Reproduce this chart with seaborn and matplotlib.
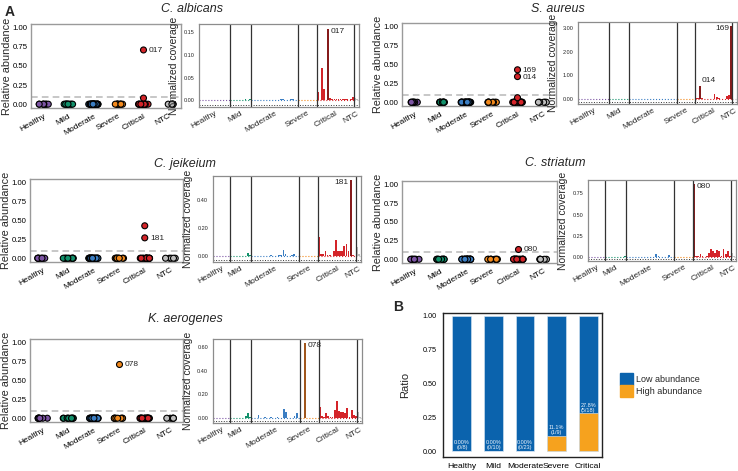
import numpy as np
import pandas as pd
import matplotlib
matplotlib.use("Agg")
import matplotlib.pyplot as plt
from matplotlib.patches import Patch
import seaborn as sns

groups = ["Healthy", "Mild", "Moderate", "Severe", "Critical", "NTC"]
group_colors = ["#7D55A4", "#12916B", "#3B7EC3", "#F2891C", "#D42429", "#BEBEBE"]
dark_colors = ["#5A3C78", "#0B6149", "#24548A", "#A0561C", "#861B1B", "#7A7A7A"]
n_abund = [8, 10, 23, 9, 18, 5]

# relative abundance: samples above zero (all the others sit at 0)
albicans_hit_group = ["Critical", "Critical"]
albicans_hit_value = [0.71, 0.08]
albicans_hit_label = ["017", ""]

aureus_hit_group = ["Critical", "Critical", "Critical"]
aureus_hit_value = [0.43, 0.34, 0.06]
aureus_hit_label = ["169", "014", ""]

jeikeium_hit_group = ["Critical", "Critical"]
jeikeium_hit_value = [0.43, 0.27]
jeikeium_hit_label = ["", "181"]

striatum_hit_group = ["Critical"]
striatum_hit_value = [0.14]
striatum_hit_label = ["080"]

aerogenes_hit_group = ["Severe"]
aerogenes_hit_value = [0.72]
aerogenes_hit_label = ["078"]

# normalized coverage per sample, by group
albicans_cov = {
    "Healthy": [0, 0, 0, 0, 0, 0, 0, 0],
    "Mild": [0, 0, 0, 0, 0, 0, 0, 0.002, 0, 0.003],
    "Moderate": [0, 0, 0, 0, 0, 0, 0, 0, 0, 0, 0, 0, 0, 0, 0.003, 0.002, 0, 0, 0, 0.002, 0.003, 0, 0],
    "Severe": [0, 0, 0, 0, 0, 0, 0, 0, 0],
    "Critical": [0.018, 0, 0.072, 0.026, 0, 0.158, 0.005, 0.002, 0.003, 0.003, 0.002, 0.003,
                 0.002, 0.002, 0.003, 0, 0.004, 0.008],
    "NTC": [0.006, 0.004],
}
albicans_hi = [("Critical", 5, "017", "right")]

aureus_cov = {
    "Healthy": [0, 0, 0, 0, 0, 0, 0, 0],
    "Mild": [0, 0, 0, 0, 0, 0, 0, 0, 0.01, 0],
    "Moderate": [0, 0, 0, 0, 0, 0, 0, 0.01, 0, 0, 0, 0, 0, 0, 0.01, 0, 0, 0, 0, 0, 0.02, 0, 0],
    "Severe": [0, 0, 0, 0, 0, 0, 0, 0, 0],
    "Critical": [0.03, 0.04, 0.55, 0.05, 0.02, 0, 0, 0, 0, 0.21, 0.1, 0.03, 0, 0, 0, 0.12, 0.15, 3.07],
    "NTC": [0, 0],
}
aureus_hi = [("Critical", 2, "014", "upright"), ("Critical", 17, "169", "left")]

jeikeium_cov = {
    "Healthy": [0, 0, 0, 0, 0, 0, 0, 0],
    "Mild": [0, 0, 0.005, 0.005, 0.005, 0.005, 0, 0.005, 0.025, 0.01],
    "Moderate": [0, 0, 0.005, 0, 0.005, 0, 0, 0.005, 0, 0.01, 0.005, 0.005, 0, 0.01, 0.01, 0.045,
                 0.02, 0, 0, 0.01, 0.02, 0, 0],
    "Severe": [0.005, 0.005, 0.005, 0.005, 0.005, 0.005, 0.005, 0.005, 0.005],
    "Critical": [0.14, 0.015, 0.02, 0.035, 0.01, 0.01, 0.005, 0.04, 0.115, 0.04, 0.04, 0.04,
                 0.07, 0.085, 0.04, 0.54, 0.01, 0.005],
    "NTC": [0.065, 0.02],
}
jeikeium_hi = [("Critical", 15, "181", "left")]

striatum_cov = {
    "Healthy": [0, 0, 0, 0, 0, 0, 0, 0],
    "Mild": [0, 0, 0, 0, 0, 0, 0.005, 0, 0.005, 0.02],
    "Moderate": [0, 0, 0, 0, 0, 0, 0.005, 0, 0, 0, 0.005, 0, 0, 0, 0.04, 0.02, 0, 0, 0, 0.005,
                 0.03, 0, 0],
    "Severe": [0.003, 0.003, 0, 0.003, 0, 0.003, 0, 0.003, 0],
    "Critical": [0.86, 0.01, 0.01, 0.04, 0.015, 0.005, 0.01, 0.05, 0.1, 0.07, 0.05, 0.09,
                 0.08, 0.02, 0.1, 0.04, 0.07, 0.01],
    "NTC": [0.05, 0.01],
}
striatum_hi = [("Critical", 0, "080", "right")]

aerogenes_cov = {
    "Healthy": [0, 0, 0, 0, 0, 0, 0, 0],
    "Mild": [0, 0, 0, 0, 0, 0, 0, 0.02, 0.045, 0.01],
    "Moderate": [0, 0, 0, 0.03, 0, 0, 0.005, 0, 0, 0.005, 0, 0, 0.005, 0, 0, 0.075, 0.05, 0,
                 0, 0, 0.015, 0.04, 0],
    "Severe": [0, 0, 0.634, 0, 0, 0, 0, 0, 0],
    "Critical": [0.09, 0.02, 0.01, 0.04, 0.02, 0.01, 0.005, 0.065, 0.146, 0.06, 0.055, 0.055,
                 0.04, 0.085, 0.01, 0.065, 0.03, 0.02],
    "NTC": [0.055, 0.01],
}
aerogenes_hi = [("Severe", 2, "078", "right")]

# panel B
b_groups = ["Healthy", "Mild", "Moderate", "Severe", "Critical"]
b_high = [0, 0, 0, 1, 5]
b_total = [8, 10, 23, 9, 18]
b_pct = ["0.00%", "0.00%", "0.00%", "11.1%", "27.8%"]
low_color = "#0B63AD"
high_color = "#F6A21E"

W, H = 738, 471


def box(l, t, r, b):
    return [l / W, 1 - b / H, (r - l) / W, (b - t) / H]


palette = dict(zip(groups, group_colors))


def draw_abundance(ax, hit_group, hit_value, hit_label):
    rows = []
    for g, n in zip(groups, n_abund):
        rows += [(g, 0.0)] * (n - hit_group.count(g))
    zeros = pd.DataFrame(rows, columns=["group", "abund"])
    hits = pd.DataFrame({"group": hit_group, "abund": hit_value})
    ax.axhline(0.1, color="#BDBDBD", ls=(0, (4, 2.5)), lw=1.2, zorder=0)
    sns.stripplot(data=zeros, x="group", y="abund", hue="group", order=groups,
                  hue_order=groups, palette=palette, jitter=0.2, size=4.3,
                  edgecolor="black", linewidth=0.8, legend=False, ax=ax)
    sns.stripplot(data=hits, x="group", y="abund", hue="group", order=groups,
                  hue_order=groups, palette=palette, jitter=False, size=4.3,
                  edgecolor="black", linewidth=0.8, legend=False, ax=ax)
    for g, v, lab in zip(hit_group, hit_value, hit_label):
        if lab:
            ax.text(groups.index(g) + 0.2, v - 0.01, lab, fontsize=6, va="center")
    ax.set_xlim(-0.5, 5.5)
    ax.set_ylim(-0.05, 1.05)
    ax.set_yticks([0, 0.25, 0.5, 0.75, 1.0])
    ax.set_yticklabels(["0.00", "0.25", "0.50", "0.75", "1.00"], fontsize=5.6)
    ax.set_xticks(range(len(groups)))
    ax.set_xticklabels(groups, fontsize=6, rotation=30, ha="right", rotation_mode="anchor")
    ax.set_xlabel("")
    ax.set_ylabel("Relative abundance", fontsize=7.8, labelpad=0.5)
    ax.tick_params(axis="y", length=1.5, width=0.8, pad=0.8, colors="black")
    ax.tick_params(axis="x", length=2, width=0.8, pad=1.2, colors="black")
    for s in ax.spines.values():
        s.set_color("#9A9A9A")
        s.set_linewidth(1.0)


def draw_coverage(ax, cov, hi, yticks, ylim, pad):
    hi_keys = {(g, i): (lab, side) for g, i, lab, side in hi}
    rows = []
    bounds = []
    start = 0
    for g in groups:
        for i, v in enumerate(cov[g]):
            key = g + " hi" if (g, i) in hi_keys else g
            rows.append((start + i, v, key, g, i))
        start += len(cov[g])
        bounds.append(start)
    df = pd.DataFrame(rows, columns=["pos", "cov", "key", "group", "idx"])
    pal = dict(palette)
    pal.update({g + " hi": c for g, c in zip(groups, dark_colors)})
    sns.barplot(data=df, x="pos", y="cov", hue="key", palette=pal, native_scale=True,
                dodge=False, width=0.85, errorbar=None, legend=False, saturation=1,
                linewidth=0, edgecolor="none", ax=ax)
    xl, xr = -0.5 - pad, start - 0.1
    edges = [xl] + [b - 0.5 for b in bounds[:-1]] + [xr]
    for gi in range(len(groups)):
        ax.hlines(0, edges[gi], edges[gi + 1], colors=group_colors[gi], linestyles=":",
                  lw=0.8, zorder=0)
    for b in bounds[:-1]:
        ax.axvline(b - 0.5, color="#333333", lw=0.9)
    ax.plot([0, 1], [0.02, 0.02], transform=ax.transAxes, ls=":", color="#333333", lw=0.7)
    rng = ylim[1] - ylim[0]
    for _, r in df.iterrows():
        if (r["group"], r["idx"]) not in hi_keys:
            continue
        lab, side = hi_keys[(r["group"], r["idx"])]
        if side == "right":
            ax.text(r["pos"] + 1.0, r["cov"] + 0.01 * rng, lab, fontsize=6, ha="left", va="top")
        elif side == "left":
            ax.text(r["pos"] - 1.0, r["cov"] + 0.01 * rng, lab, fontsize=6, ha="right", va="top")
        else:
            ax.text(r["pos"] + 0.5, r["cov"] + 0.03 * rng, lab, fontsize=6, ha="left", va="bottom")
    ax.set_xlim(xl, xr)
    ax.set_ylim(*ylim)
    ax.set_yticks(yticks)
    ax.set_yticklabels([f"{t:.2f}" for t in yticks], fontsize=4)
    centers = [(edges[i] + edges[i + 1]) / 2 for i in range(len(groups))]
    ax.set_xticks(centers)
    ax.set_xticklabels(groups, fontsize=6, rotation=30, ha="right", rotation_mode="anchor")
    ax.set_xlabel("")
    ax.set_ylabel("Normalized coverage", fontsize=7.5, labelpad=3)
    ax.tick_params(axis="y", length=2, width=0.6, pad=1.5)
    ax.tick_params(axis="x", length=0, pad=2)
    for s in ax.spines.values():
        s.set_color("#8C8C8C")
        s.set_linewidth(0.9)


sns.set_theme(style="white")
plt.rcParams["font.family"] = ["Liberation Sans", "DejaVu Sans"]
np.random.seed(7)

fig = plt.figure(figsize=(7.38, 4.71), dpi=100)

panels = [
    ("C. albicans", (192, 9), (31, 24, 181, 108), (199, 24, 359, 107),
     albicans_hit_group, albicans_hit_value, albicans_hit_label,
     albicans_cov, albicans_hi, [0, 0.05, 0.10, 0.15], (-0.0147, 0.168), 7.0),
    ("S. aureus", (558, 9), (402, 23, 556, 106), (578, 22, 737, 104),
     aureus_hit_group, aureus_hit_value, aureus_hit_label,
     aureus_cov, aureus_hi, [0, 1, 2, 3], (-0.21, 3.25), 7.0),
    ("C. jeikeium", (185, 164), (30, 179, 183, 262), (213, 176, 361, 262),
     jeikeium_hit_group, jeikeium_hit_value, jeikeium_hit_label,
     jeikeium_cov, jeikeium_hi, [0, 0.2, 0.4], (-0.04, 0.57), 0.0),
    ("C. striatum", (555, 163), (402, 181, 557, 263), (588, 180, 736, 261),
     striatum_hit_group, striatum_hit_value, striatum_hit_label,
     striatum_cov, striatum_hi, [0, 0.25, 0.5, 0.75], (-0.043, 0.906), 0.0),
    ("K. aerogenes", (185, 319), (30, 339, 183, 422), (213, 339, 362, 423),
     aerogenes_hit_group, aerogenes_hit_value, aerogenes_hit_label,
     aerogenes_cov, aerogenes_hi, [0, 0.2, 0.4, 0.6], (-0.042, 0.67), 0.0),
]

for (title, txy, dbox, cbox, hg, hv, hl, cov, hi, yt, yl, pad) in panels:
    fig.text(txy[0] / W, 1 - txy[1] / H, title, fontsize=9, style="italic",
             ha="center", va="center")
    ax_d = fig.add_axes(box(*dbox))
    draw_abundance(ax_d, hg, hv, hl)
    ax_c = fig.add_axes(box(*cbox))
    draw_coverage(ax_c, cov, hi, yt, yl, pad)

# panel B
axb = fig.add_axes(box(443, 313, 602, 457))
ratio_high = [h / t for h, t in zip(b_high, b_total)]
ratio_low = [(t - h) / t for h, t in zip(b_high, b_total)]
dfb = pd.DataFrame({"group": b_groups, "high": ratio_high,
                    "stack": [a + b for a, b in zip(ratio_high, ratio_low)]})
sns.barplot(data=dfb, x="group", y="stack", color=low_color, width=0.6, saturation=1,
            edgecolor="#DCE8F5", linewidth=0.4, ax=axb)
sns.barplot(data=dfb, x="group", y="high", color=high_color, width=0.6, saturation=1,
            edgecolor="#DCE8F5", linewidth=0.4, ax=axb)
for i, (p, h, t, r) in enumerate(zip(b_pct, b_high, b_total, ratio_high)):
    axb.text(i, r + 0.005, f"{p}\n({h}/{t})", ha="center", va="bottom", fontsize=4,
             color="#EAF2FB", linespacing=1.0)
axb.set_xlim(-0.6, 4.44)
axb.set_ylim(-0.044, 1.02)
axb.set_yticks([0, 0.25, 0.5, 0.75, 1.0])
axb.set_yticklabels(["0.00", "0.25", "0.50", "0.75", "1.00"], fontsize=5.2)
axb.set_xticks(range(len(b_groups)))
axb.set_xticklabels(b_groups, fontsize=6.1)
axb.set_xlabel("")
axb.set_ylabel("Ratio", fontsize=8, labelpad=9)
axb.tick_params(axis="both", length=2.5, width=0.8, pad=2, colors="black")
for s in axb.spines.values():
    s.set_color("#222222")
    s.set_linewidth(1.0)

fig.legend(handles=[Patch(color=low_color), Patch(color=high_color)],
           labels=["Low abundance", "High abundance"], loc="upper left",
           bbox_to_anchor=(615 / W, 1 - 368 / H), frameon=False, fontsize=6.5,
           handlelength=1.5, handleheight=1.7, handletextpad=0.3, labelspacing=0.0,
           borderpad=0)

fig.text(5 / W, 1 - 12 / H, "A", fontsize=10, fontweight="bold", va="center")
fig.text(393 / W, 1 - 307 / H, "B", fontsize=10, fontweight="bold", va="center")

fig.savefig("out.png", dpi=100)
